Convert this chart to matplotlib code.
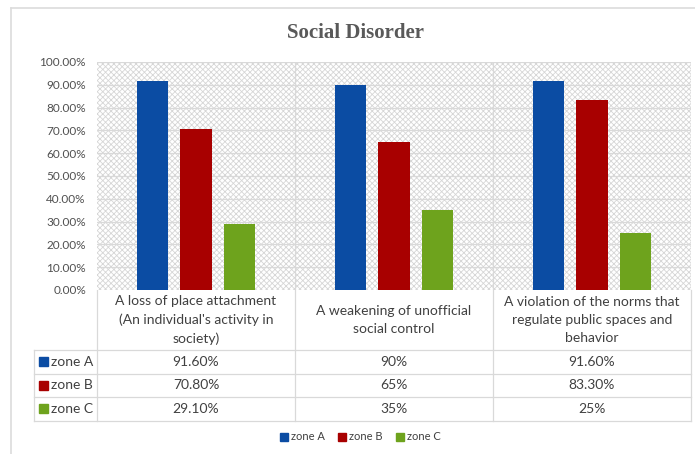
import numpy as np
import matplotlib.pyplot as plt
from matplotlib.patches import Rectangle
from matplotlib.lines import Line2D

plt.rcParams['font.family'] = ['Lato', 'DejaVu Sans']
plt.rcParams['hatch.color'] = '#d6d6d6'
plt.rcParams['hatch.linewidth'] = 0.6

categories = ["A loss of place attachment\n(An individual's activity in\nsociety)",
              "A weakening of unofficial\nsocial control",
              "A violation of the norms that\nregulate public spaces and\nbehavior"]
zones = ['zone A', 'zone B', 'zone C']
zone_a = [91.6, 90.0, 91.6]
zone_b = [70.8, 65.0, 83.3]
zone_c = [29.1, 35.0, 25.0]
labels_a = ['91.60%', '90%', '91.60%']
labels_b = ['70.80%', '65%', '83.30%']
labels_c = ['29.10%', '35%', '25%']
colors = ['#0b4ca3', '#a80000', '#6ea31d']

W, H = 695, 454
fig = plt.figure(figsize=(W / 100, H / 100), dpi=100)

# outer frame
frame = fig.add_axes([0, 0, 1, 1])
frame.set_xlim(0, W)
frame.set_ylim(H, 0)
frame.axis('off')
frame.plot([11, W], [7.5, 7.5], color='#dcdcdc', lw=1.2)
frame.plot([11, 11], [7.5, H], color='#dcdcdc', lw=1.2)

# plot area in pixels
L, R, T, B = 97, 691, 62, 290
ax = fig.add_axes([L / W, 1 - B / H, (R - L) / W, (B - T) / H])
ax.add_patch(Rectangle((0, 0), 1, 1, transform=ax.transAxes, facecolor='white',
                       hatch='xxxxxx', edgecolor='#d6d6d6', lw=0, zorder=0))
x = np.arange(len(categories))
w = 0.157
step = 0.22
series = [zone_a, zone_b, zone_c]
for i, vals in enumerate(series):
    ax.bar(x + (i - 1) * step, vals, width=w, color=colors[i], zorder=3)
ax.set_xlim(-0.5, len(categories) - 0.5)
ax.set_ylim(0, 100)
ax.set_yticks(np.arange(0, 101, 10))
ax.set_yticklabels(['%.2f%%' % v for v in np.arange(0, 101, 10)], fontsize=8.5, color='#505050')
ax.set_xticks([])
for yv in np.arange(10, 101, 10):
    ax.axhline(yv, color='#d9d9d9', lw=0.9, zorder=1)
for xv in [0.5, 1.5, 2.5]:
    ax.axvline(xv, color='#d9d9d9', lw=0.9, zorder=1)
for s in ax.spines.values():
    s.set_visible(False)
ax.tick_params(axis='y', length=0, pad=8)

fig.text(355 / W, 1 - 33 / H, 'Social Disorder', ha='center', va='center',
         fontsize=15, fontweight='bold', color='#595959', family=['Liberation Serif', 'DejaVu Serif'])

# data table
tc = '#d9d9d9'
xs = [L + (R - L) / 3 * k for k in range(4)]
rows = [290, 350, 373.5, 397, 420.5]
for xv in xs:
    frame.plot([xv, xv], [rows[0], rows[-1]], color=tc, lw=0.9)
frame.plot([34, 34], [rows[1], rows[-1]], color=tc, lw=0.9)
for yv in rows[1:]:
    frame.plot([34, R], [yv, yv], color=tc, lw=0.9)
for k, cat in enumerate(categories):
    frame.text((xs[k] + xs[k + 1]) / 2, (rows[0] + rows[1]) / 2, cat, ha='center', va='center',
               fontsize=10, color='#404040', linespacing=1.65)
for r, labs in enumerate([labels_a, labels_b, labels_c]):
    yc = (rows[r + 1] + rows[r + 2]) / 2
    frame.add_patch(Rectangle((39, yc - 4.5), 9, 9, color=colors[r]))
    frame.text(51, yc, zones[r], ha='left', va='center', fontsize=10, color='#404040')
    for k, lab in enumerate(labs):
        frame.text((xs[k] + xs[k + 1]) / 2, yc, lab, ha='center', va='center',
                   fontsize=10, color='#404040')

# legend
handles = [Line2D([], [], marker='s', ls='', color=c, markersize=6) for c in colors]
fig.legend(handles, zones, loc='center', bbox_to_anchor=(360 / W, 1 - 437 / H), ncol=3,
           frameon=False, fontsize=8, handletextpad=0.2, columnspacing=1.2,
           labelcolor='#404040', handlelength=0.8)

fig.savefig('out.png', dpi=100)
